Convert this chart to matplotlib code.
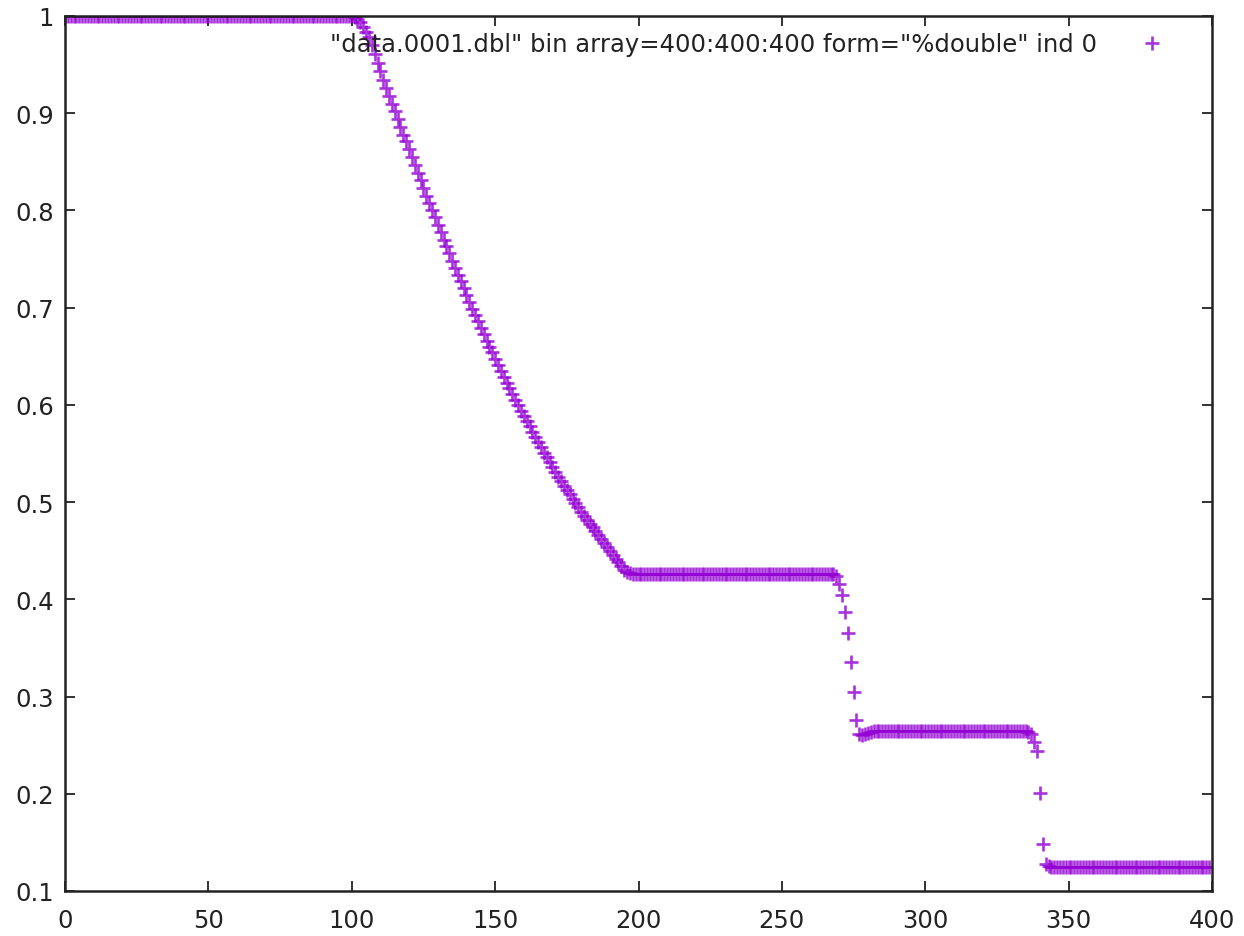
import numpy as np
import matplotlib
matplotlib.use("Agg")
import matplotlib.pyplot as plt

# density profile, one value per cell (400 cells, index 0 of the 3d array)
left_state = [1.0] * 100
rarefaction = [
    1.000, 0.999, 0.997, 0.994, 0.989, 0.984, 0.978, 0.970, 0.961, 0.952,
    0.943, 0.934, 0.926, 0.918, 0.910, 0.902, 0.894, 0.886, 0.878, 0.871,
    0.863, 0.855, 0.847, 0.839, 0.831, 0.823, 0.815, 0.808, 0.800, 0.793,
    0.785, 0.778, 0.770, 0.763, 0.756, 0.748, 0.741, 0.734, 0.727, 0.720,
    0.713, 0.706, 0.699, 0.692, 0.686, 0.679, 0.673, 0.666, 0.660, 0.654,
    0.647, 0.641, 0.635, 0.629, 0.623, 0.617, 0.611, 0.605, 0.600, 0.594,
    0.589, 0.583, 0.578, 0.572, 0.567, 0.562, 0.557, 0.551, 0.546, 0.541,
    0.536, 0.531, 0.526, 0.522, 0.517, 0.512, 0.508, 0.503, 0.499, 0.495,
    0.490, 0.486, 0.482, 0.478, 0.474, 0.470, 0.466, 0.462, 0.458, 0.454,
    0.450, 0.446, 0.442, 0.438, 0.434, 0.430, 0.428, 0.427,
]
contact_plateau = [0.426] * 71
contact = [0.424, 0.416, 0.404, 0.387, 0.365, 0.336, 0.305, 0.276,
           0.262, 0.260, 0.261, 0.263, 0.264]
shock_plateau = [0.265] * 54
shock = [0.264, 0.262, 0.253, 0.244, 0.201, 0.148, 0.128, 0.126]
right_state = [0.125] * 56

density = left_state + rarefaction + contact_plateau + contact + shock_plateau + shock + right_state
assert len(density) == 400
cells = np.arange(len(density))

legend_label = '"data.0001.dbl" bin array=400:400:400 form="%double" ind 0'
x_ticks = [0, 50, 100, 150, 200, 250, 300, 350, 400]
y_ticks = [0.1, 0.2, 0.3, 0.4, 0.5, 0.6, 0.7, 0.8, 0.9, 1.0]
y_ticklabels = ["0.1", "0.2", "0.3", "0.4", "0.5", "0.6", "0.7", "0.8", "0.9", "1"]

plt.rcParams["font.family"] = "DejaVu Sans"
text_color = "#222222"
font_size = 17.5

fig = plt.figure(figsize=(12.44, 9.37), dpi=100)
ax = fig.add_axes([65 / 1244, 1 - 892 / 937, (1212 - 65) / 1244, (892 - 17) / 937])

ax.plot(cells, density, linestyle="none", marker="+", markersize=9.5,
        markeredgewidth=1.9, color="#9400D3", alpha=0.8, label=legend_label)

ax.set_xlim(0, 400)
ax.set_ylim(0.1, 1.0)
ax.set_xticks(x_ticks)
ax.set_yticks(y_ticks)
ax.set_yticklabels(y_ticklabels)
ax.tick_params(direction="in", length=7, width=1.3, top=True, right=True,
               labelsize=font_size, colors=text_color, pad=8)
ax.tick_params(axis="x", pad=12)
for side in ax.spines.values():
    side.set_linewidth(1.8)
    side.set_color(text_color)

leg = ax.legend(loc="upper right", bbox_to_anchor=(0.971, 0.998), frameon=False,
                markerfirst=False, fontsize=font_size, handlelength=1.0,
                handletextpad=1.76, borderaxespad=0.2)
for t in leg.get_texts():
    t.set_color(text_color)

fig.savefig("out.png", dpi=100)
